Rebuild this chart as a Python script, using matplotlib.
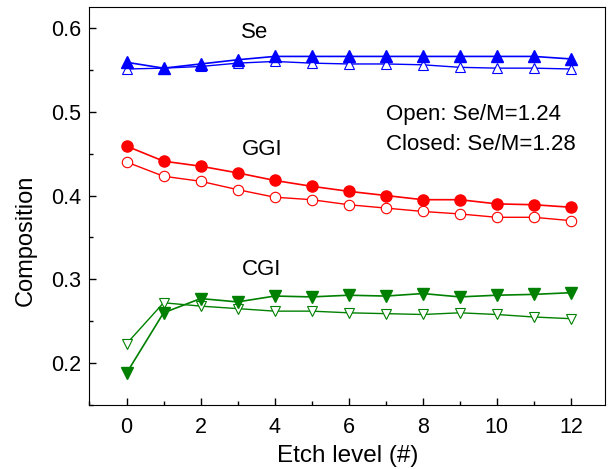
import matplotlib.pyplot as plt
from matplotlib.ticker import MultipleLocator

plt.rcParams['font.family'] = ['Liberation Sans', 'DejaVu Sans']

etch = list(range(13))

# closed (filled) and open (hollow) runs
se_closed = [0.559, 0.552, 0.557, 0.562, 0.566, 0.566, 0.566, 0.566, 0.566, 0.566, 0.566, 0.566, 0.563]
se_open = [0.551, 0.552, 0.554, 0.558, 0.560, 0.558, 0.557, 0.557, 0.556, 0.553, 0.552, 0.552, 0.551]
ggi_closed = [0.459, 0.441, 0.435, 0.427, 0.418, 0.411, 0.405, 0.400, 0.395, 0.395, 0.390, 0.389, 0.386]
ggi_open = [0.440, 0.423, 0.417, 0.407, 0.398, 0.395, 0.389, 0.385, 0.381, 0.378, 0.374, 0.374, 0.370]
cgi_closed = [0.188, 0.260, 0.277, 0.273, 0.280, 0.279, 0.281, 0.280, 0.283, 0.279, 0.281, 0.282, 0.284]
cgi_open = [0.223, 0.272, 0.268, 0.265, 0.262, 0.262, 0.260, 0.259, 0.258, 0.260, 0.258, 0.255, 0.253]

fig = plt.figure(figsize=(6.1, 4.69), dpi=100)
ax = fig.add_axes([0.1467, 0.1365, 0.8451, 0.8486])

ax.plot(etch, se_open, '-^', color='blue', lw=1, ms=7, mfc='white', mec='blue', mew=0.8)
ax.plot(etch, se_closed, '-^', color='blue', lw=1.2, ms=9)
ax.plot(etch, ggi_open, '-o', color='red', lw=1, ms=7.5, mfc='white', mec='red', mew=0.8)
ax.plot(etch, ggi_closed, '-o', color='red', lw=1.2, ms=8)
ax.plot(etch, cgi_open, '-v', color='green', lw=1, ms=7, mfc='white', mec='green', mew=0.8)
ax.plot(etch, cgi_closed, '-v', color='green', lw=1.2, ms=9)

ax.text(3.46, 0.594, 'Se', fontsize=16, ha='center', va='center')
ax.text(3.65, 0.455, 'GGI', fontsize=16, ha='center', va='center')
ax.text(3.65, 0.312, 'CGI', fontsize=16, ha='center', va='center')
ax.text(7.0, 0.4964, 'Open: Se/M=1.24', fontsize=16, ha='left', va='center')
ax.text(7.0, 0.4607, 'Closed: Se/M=1.28', fontsize=16, ha='left', va='center')

ax.set_xlim(-1, 12.92)
ax.set_ylim(0.15, 0.625)
ax.xaxis.set_major_locator(MultipleLocator(2))
ax.xaxis.set_minor_locator(MultipleLocator(1))
ax.yaxis.set_major_locator(MultipleLocator(0.1))
ax.yaxis.set_minor_locator(MultipleLocator(0.05))
ax.tick_params(which='both', direction='in', labelsize=15.5, width=1)
ax.tick_params(which='major', length=5)
ax.tick_params(which='minor', length=3)
ax.tick_params(axis='x', which='major', pad=8.5)
ax.tick_params(axis='y', which='major', pad=6)

ax.set_xlabel('Etch level (#)', fontsize=17.5, labelpad=5.5)
ax.set_ylabel('Composition', fontsize=17)
# y title sits a bit below the axis middle
ax.yaxis.set_label_coords(-0.102, 0.4146)

plt.savefig('out.png', dpi=100)
